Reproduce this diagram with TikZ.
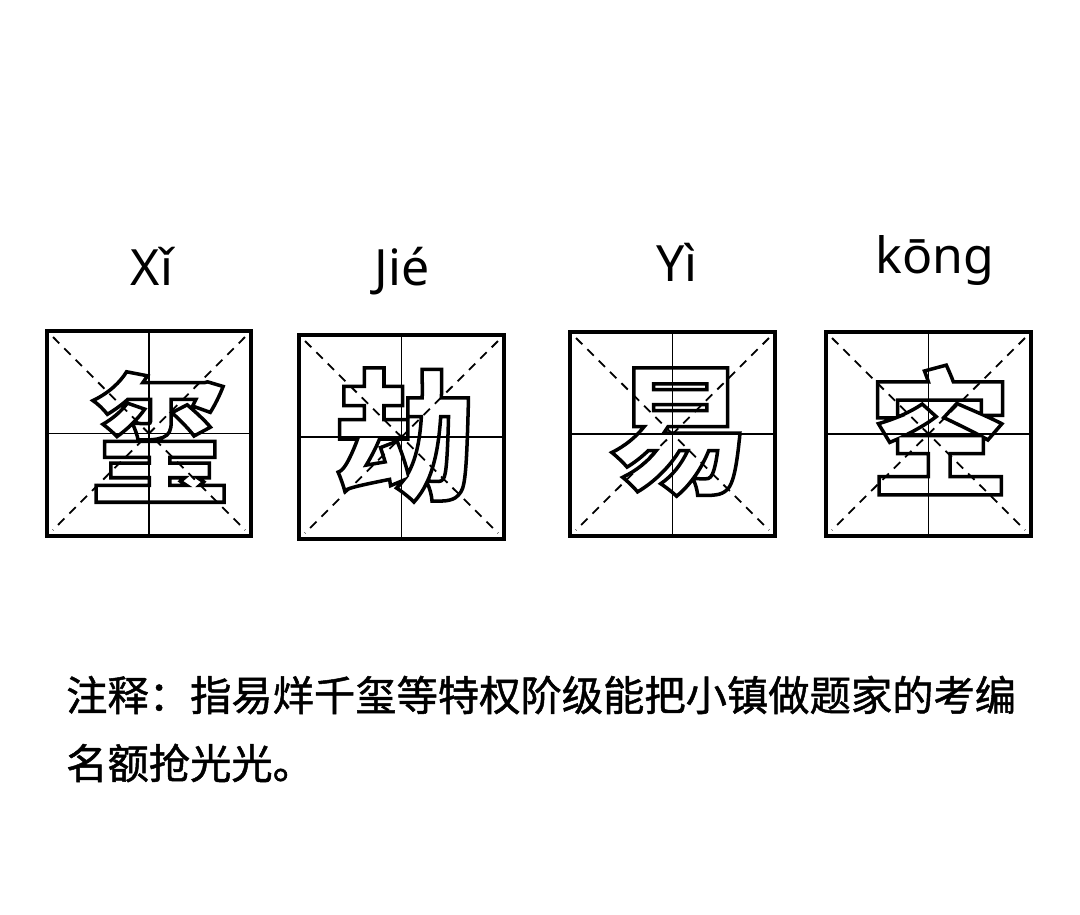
\documentclass[tikz,border=0pt]{standalone}
\usepackage{fontspec}
\usetikzlibrary{calc}
\setmainfont{Noto Sans}
\newfontfamily\cjk{Noto Sans CJK SC}
\newfontfamily\cjknote[FakeBold=1.2]{Noto Sans CJK SC}
\tikzset{
  gridbox/.style={line width=4pt},
  crossline/.style={line width=1.6pt},
  diagline/.style={line width=1.8pt, dash pattern=on 9pt off 7pt},
  pinyin/.style={anchor=base, font=\fontsize{50}{60}\selectfont, inner sep=0pt},
  calli/.style={inner sep=0pt, font=\cjk\bfseries\fontsize{140}{140}\selectfont},
  note/.style={anchor=west, inner sep=0pt, font=\cjknote\fontsize{41.3}{41.3}\selectfont}
}
\newcommand{\outl}[1]{\special{pdf:literal direct 1 Tr 3.5 w}#1\special{pdf:literal direct 0 Tr 1 w}}
\begin{document}
\begin{tikzpicture}[x=1pt,y=-1pt]
\useasboundingbox (0,0) rectangle (1080,914);
\fill[white] (0,0) rectangle (1080,914);
% boxes
\foreach \n/\l/\t/\r/\b in {1/47/331/251/536, 2/299/335/504/539, 3/570/332/775/536, 4/826/332/1031/536}{
  \coordinate (tl\n) at (\l,\t);
  \coordinate (br\n) at (\r,\b);
  \coordinate (tr\n) at (\r,\t);
  \coordinate (bl\n) at (\l,\b);
  \draw[crossline] ($(tl\n)!0.5!(tr\n)$) -- ($(bl\n)!0.5!(br\n)$);
  \draw[crossline] ($(tl\n)!0.5!(bl\n)$) -- ($(tr\n)!0.5!(br\n)$);
  \draw[diagline] ($(tl\n)+(6,6)$) -- ($(br\n)+(-6,-6)$);
  \draw[diagline] ($(tr\n)+(-6,6)$) -- ($(bl\n)+(6,-6)$);
  \draw[gridbox] (tl\n) rectangle (br\n);
}
% pinyin
\node[pinyin] (p1) at (152,285) {Xǐ};
\node[pinyin] (p2) at (402,285) {Jié};
\node[pinyin] (p3) at (677,281) {Yì};
\node[pinyin] (p4) at (935,273) {kōng};
% calligraphic characters
\node[calli] (c1) at (160,437) {\outl{玺}};
\node[calli] (c2) at (405,435) {\outl{劫}};
\node[calli] (c3) at (680,432) {\outl{易}};
\node[calli] (c4) at (940,430) {\outl{空}};
% note
\node[note] (n1) at (66,695) {注释：指易烊千玺等特权阶级能把小镇做题家的考编};
\node[note] (n2) at (66,763) {名额抢光光。};
\end{tikzpicture}
\end{document}
